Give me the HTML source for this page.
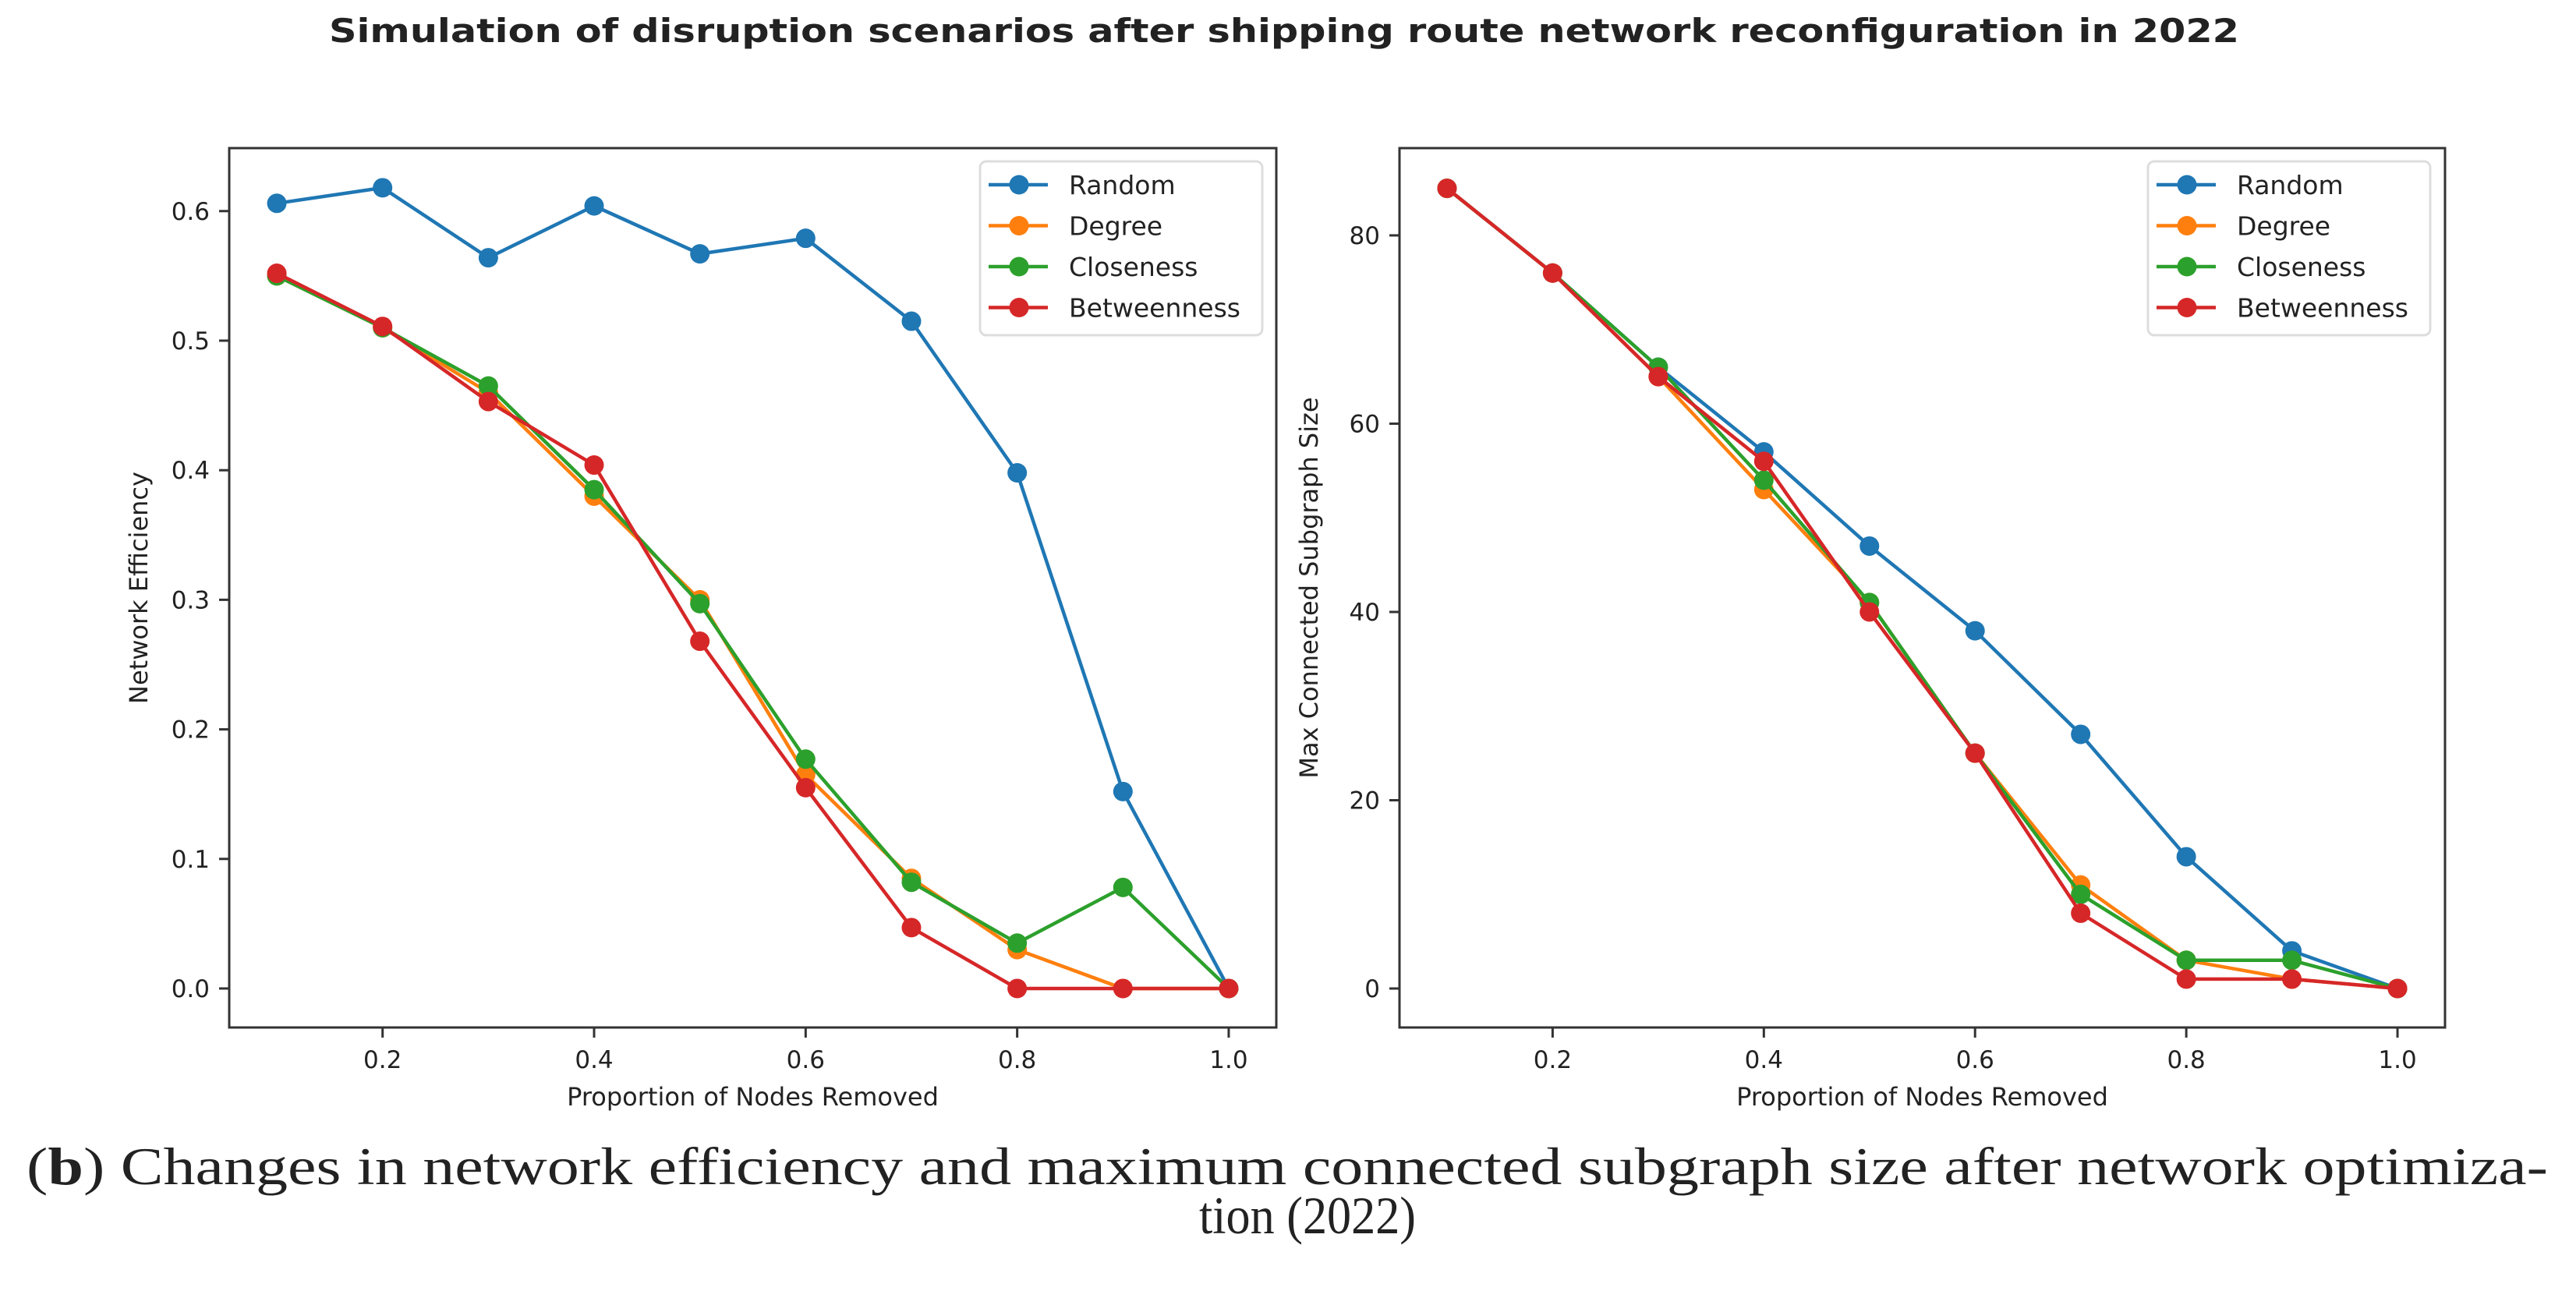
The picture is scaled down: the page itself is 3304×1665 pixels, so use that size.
<!DOCTYPE html>
<html><head><meta charset="utf-8"><style>
html,body{margin:0;padding:0;background:#fff;}
svg{display:block;}
text{font-family:"DejaVu Sans","Liberation Sans",sans-serif;fill:#222;}
text.cap, text.cap tspan{font-family:"Liberation Serif",serif;}
</style></head><body>
<svg id="fig" width="3304" height="1665" viewBox="0 0 3304 1665">
<text x="1647" y="54" text-anchor="middle" font-weight="bold" font-size="42" textLength="2450" lengthAdjust="spacingAndGlyphs">Simulation of disruption scenarios after shipping route network reconfiguration in 2022</text>
<g id="left"></g>
<g id="right"></g>
<text class="cap" x="34" y="1519" font-size="68" textLength="3234" lengthAdjust="spacingAndGlyphs">(<tspan font-weight="bold">b</tspan>) Changes in network efficiency and maximum connected subgraph size after network optimiza-</text>
<text class="cap" x="1677" y="1582" text-anchor="middle" font-size="68" textLength="278" lengthAdjust="spacingAndGlyphs">tion (2022)</text>
</svg>
<script>
const xValues = [0.1,0.2,0.3,0.4,0.5,0.6,0.7,0.8,0.9,1.0];
const seriesNames = ["Random","Degree","Closeness","Betweenness"];
const effRandom = [0.606,0.618,0.564,0.604,0.567,0.579,0.515,0.398,0.152,0.0];
const effDegree = [0.55,0.51,0.46,0.38,0.30,0.165,0.085,0.03,0.0,0.0];
const effCloseness = [0.55,0.51,0.465,0.385,0.297,0.177,0.082,0.035,0.078,0.0];
const effBetweenness = [0.552,0.511,0.453,0.404,0.268,0.155,0.047,0.0,0.0,0.0];
const sizeRandom = [85,76,66,57,47,38,27,14,4,0];
const sizeDegree = [85,76,65,53,41,25,11,3,1,0];
const sizeCloseness = [85,76,66,54,41,25,10,3,3,0];
const sizeBetweenness = [85,76,65,56,40,25,8,1,1,0];
const xTicks = [0.2,0.4,0.6,0.8,1.0];
const xTickLabels = ["0.2","0.4","0.6","0.8","1.0"];
const effTicks = [0.0,0.1,0.2,0.3,0.4,0.5,0.6];
const effTickLabels = ["0.0","0.1","0.2","0.3","0.4","0.5","0.6"];
const sizeTicks = [0,20,40,60,80];
const sizeTickLabels = ["0","20","40","60","80"];

const colors = ["#1f77b4","#ff7f0e","#2ca02c","#d62728"];
const NS = "http://www.w3.org/2000/svg";
function mk(parent, tag, attrs){const e=document.createElementNS(NS,tag);for(const k in attrs)e.setAttribute(k,attrs[k]);parent.appendChild(e);return e;}

function chart(g, L, R, T, B, xmin, xmax, ymin, ymax, series, yTicks, yLabels, ylabel, legL, keyName){
  const sx = v => L + (v - xmin)/(xmax - xmin)*(R - L);
  const sy = v => B - (v - ymin)/(ymax - ymin)*(B - T);
  series.forEach((s,i)=>{
    const pts = xValues.map((x,j)=>sx(x).toFixed(1)+","+sy(s[j]).toFixed(1)).join(" ");
    const pl = mk(g,"polyline",{points:pts,fill:"none",stroke:colors[i],"stroke-width":4.5,"stroke-linejoin":"round"});
    
    
    xValues.forEach((x,j)=>{
      const c = mk(g,"circle",{cx:sx(x),cy:sy(s[j]),r:12.5,fill:colors[i]});
      
      
    });
  });
  const fr = mk(g,"rect",{x:L,y:T,width:R-L,height:B-T,fill:"none",stroke:"#333","stroke-width":3});
  
  
  xTicks.forEach((v,i)=>{
    mk(g,"line",{x1:sx(v),x2:sx(v),y1:B,y2:B+13,stroke:"#333","stroke-width":3});
    const t = mk(g,"text",{x:sx(v),y:B+52,"text-anchor":"middle","font-size":31});
    t.textContent = xTickLabels[i];
    
    
  });
  yTicks.forEach((v,i)=>{
    mk(g,"line",{x1:L-13,x2:L,y1:sy(v),y2:sy(v),stroke:"#333","stroke-width":3});
    const t = mk(g,"text",{x:L-25,y:sy(v)+11,"text-anchor":"end","font-size":31});
    t.textContent = yLabels[i];
    
    
  });
  const xl = mk(g,"text",{x:(L+R)/2,y:B+100,"text-anchor":"middle","font-size":32});
  xl.textContent = "Proportion of Nodes Removed";
  
  
  const yx = L-105, yy=(T+B)/2;
  const yl = mk(g,"text",{x:yx,y:yy,"text-anchor":"middle","font-size":32,transform:`rotate(-90 ${yx} ${yy})`});
  yl.textContent = ylabel;
  
  
  const lg = mk(g,"g",{});
  
  
  mk(lg,"rect",{x:legL,y:207,width:362,height:223,rx:8,fill:"#fff",stroke:"#ddd","stroke-width":3});
  seriesNames.forEach((n,i)=>{
    const yv = 237 + i*52.5;
    const en = mk(lg,"g",{});
    
    
    mk(en,"line",{x1:legL+11,x2:legL+87,y1:yv,y2:yv,stroke:colors[i],"stroke-width":4.5});
    mk(en,"circle",{cx:legL+50,cy:yv,r:12.5,fill:colors[i]});
    const t = mk(en,"text",{x:legL+114,y:yv+12,"font-size":33});
    t.textContent = n;
  });
}

chart(document.getElementById("left"), 294,1637,190,1318, 0.055,1.045, -0.0301,0.6486,
  [effRandom,effDegree,effCloseness,effBetweenness], effTicks, effTickLabels, "Network Efficiency", 1257, "efficiency");
chart(document.getElementById("right"), 1795,3136,190,1318, 0.055,1.045, -4.14,89.27,
  [sizeRandom,sizeDegree,sizeCloseness,sizeBetweenness], sizeTicks, sizeTickLabels, "Max Connected Subgraph Size", 2755, "subgraph");
</script>
</body></html>
